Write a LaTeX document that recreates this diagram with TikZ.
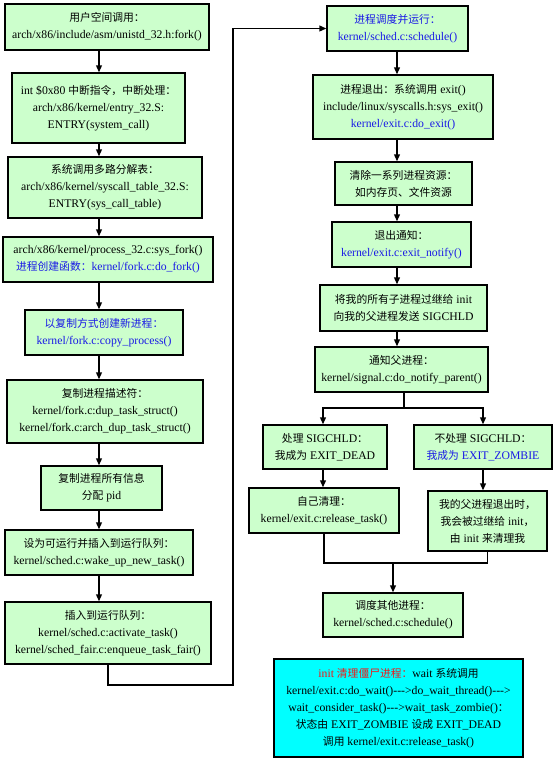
\documentclass[tikz,border=0pt]{standalone}
\usepackage{fontspec}
\setmainfont{Liberation Serif}
\newfontfamily\cjkfont{Noto Sans CJK SC}[Scale=0.92]
\usetikzlibrary{arrows.meta,positioning}
\definecolor{fkGreen}{HTML}{CCFFCC}
\definecolor{fkCyan} {HTML}{00FFFF}
\definecolor{fkBlue} {HTML}{1A1AE6}
\definecolor{fkRed}  {HTML}{F01818}
\newcommand{\zh}[1]{{\cjkfont #1}}
\newcommand{\bl}[1]{\textcolor{fkBlue}{#1}}

\begin{document}
\begin{tikzpicture}[x=0.03cm,y=-0.03cm,
      box/.style={draw,line width=1.1pt,fill=fkGreen,align=center,inner sep=0pt,
                  font=\fontsize{10}{14.5}\selectfont},
      flow/.style={line width=1.2pt,-{Triangle[length=6pt,width=5pt]}},
      wire/.style={line width=1.2pt}]
    \useasboundingbox (0,0) rectangle (559,768);
    % fork: left column
    \node[box,minimum width=6.12cm,minimum height=1.38cm] (L1) at (107,27)
      {\zh{用户空间调用：}\\arch/x86/include/asm/unistd\_32.h:fork()};
    \node[box,minimum width=5.19cm,minimum height=2.1cm] (L2) at (98.5,108)
      {int \$0x80 \zh{中断指令，中断处理：}\\arch/x86/kernel/entry\_32.S:\\ENTRY(system\_call)};
    \node[box,minimum width=5.82cm,minimum height=1.83cm] (L3) at (105,187.5)
      {\zh{系统调用多路分解表：}\\arch/x86/kernel/syscall\_table\_32.S:\\ENTRY(sys\_call\_table)};
    \node[box,minimum width=6.3cm,minimum height=1.35cm] (L4) at (108,259.5)
      {arch/x86/kernel/process\_32.c:sys\_fork()\\\bl{\zh{进程创建函数：}kernel/fork.c:do\_fork()}};
    \node[box,minimum width=4.74cm,minimum height=1.35cm] (L5) at (104,332.5)
      {\bl{\zh{以复制方式创建新进程：}}\\\bl{kernel/fork.c:copy\_process()}};
    \node[box,minimum width=5.88cm,minimum height=1.89cm] (L6) at (105,411.5)
      {\zh{复制进程描述符：}\\kernel/fork.c:dup\_task\_struct()\\kernel/fork.c:arch\_dup\_task\_struct()};
    \node[box,minimum width=3.63cm,minimum height=1.32cm] (L7) at (101.5,488)
      {\zh{复制进程所有信息}\\\zh{分配} pid};
    \node[box,minimum width=5.64cm,minimum height=1.35cm] (L8) at (99,552.5)
      {\zh{设为可运行并插入到运行队列：}\\kernel/sched.c:wake\_up\_new\_task()};
    \node[box,minimum width=6.18cm,minimum height=1.86cm] (L9) at (108,633)
      {\zh{插入到运行队列：}\\kernel/sched.c:activate\_task()\\kernel/sched\_fair.c:enqueue\_task\_fair()};
    % exit: right column
    \node[box,minimum width=4.23cm,minimum height=1.35cm] (R1) at (397.5,28.5)
      {\bl{\zh{进程调度并运行：}}\\\bl{kernel/sched.c:schedule()}};
    \node[box,minimum width=5.4cm,minimum height=1.92cm] (R2) at (403,107)
      {\zh{进程退出：系统调用} exit()\\include/linux/syscalls.h:sys\_exit()\\\bl{kernel/exit.c:do\_exit()}};
    \node[box,minimum width=4.11cm,minimum height=1.29cm] (R3) at (403.5,183.5)
      {\zh{清除一系列进程资源：}\\\zh{如内存页、文件资源}};
    \node[box,minimum width=4.17cm,minimum height=1.35cm] (R4) at (401.5,244.5)
      {\zh{退出通知：}\\\bl{kernel/exit.c:exit\_notify()}};
    \node[box,minimum width=5.01cm,minimum height=1.38cm] (R5) at (403.5,308)
      {\zh{将我的所有子进程过继给} init\\\zh{向我的父进程发送} SIGCHLD};
    \node[box,minimum width=5.19cm,minimum height=1.35cm] (R6) at (401.5,369.5)
      {\zh{通知父进程：}\\kernel/signal.c:do\_notify\_parent()};
    \node[box,minimum width=3.72cm,minimum height=1.32cm] (R7a) at (325,447)
      {\zh{处理} SIGCHLD\zh{：}\\\zh{我成为} EXIT\_DEAD};
    \node[box,minimum width=4.14cm,minimum height=1.32cm] (R7b) at (483,447)
      {\zh{不处理} SIGCHLD\zh{：}\\\bl{\zh{我成为} EXIT\_ZOMBIE}};
    \node[box,minimum width=4.5cm,minimum height=1.35cm] (R8a) at (324,510.5)
      {\zh{自己清理：}\\kernel/exit.c:release\_task()};
    \node[box,minimum width=3.57cm,minimum height=1.8cm] (R8b) at (487.5,521)
      {\zh{我的父进程退出时，}\\\zh{我会被过继给} init\zh{，}\\\zh{由} init \zh{来清理我}};
    \node[box,minimum width=4.2cm,minimum height=1.32cm] (R9) at (393,615)
      {\zh{调度其他进程：}\\kernel/sched.c:schedule()};
    \node[box,fill=fkCyan,minimum width=7.47cm,minimum height=2.94cm] (C) at (398.5,708)
      {\textcolor{fkRed}{init \zh{清理僵尸进程：}}wait \zh{系统调用}\\
       kernel/exit.c:do\_wait()-{}-{}->do\_wait\_thread()-{}-{}->\\
       wait\_consider\_task()-{}-{}->wait\_task\_zombie()\zh{：}\\
       \zh{状态由} EXIT\_ZOMBIE \zh{设成} EXIT\_DEAD\\
       \zh{调用} kernel/exit.c:release\_task()};
    % connectors
    \coordinate (lx) at (99,0);
    \coordinate (rx) at (397,0);
    \coordinate (ax) at (323,0);
    \coordinate (bx) at (483,0);
    \coordinate (jl) at (233,685);
    \coordinate (sp) at (404,408);
    \coordinate (mg) at (393,563);
    \foreach \a/\b in {L1/L2,L2/L3,L3/L4,L4/L5,L5/L6,L6/L7,L7/L8,L8/L9}
      \draw[flow] (\a.south -| lx) -- (\b.north -| lx);
    \draw[flow] (L9.south) |- (jl) |- (R1.west);
    \foreach \a/\b in {R1/R2,R2/R3,R3/R4,R4/R5,R5/R6}
      \draw[flow] (\a.south -| rx) -- (\b.north -| rx);
    \draw[wire] (R6.south -| sp) -- (sp);
    \draw[flow] (sp) -| (R7a.north -| ax);
    \draw[flow] (sp) -| (R7b.north -| bx);
    \draw[flow] (R7a.south -| ax) -- (R8a.north -| ax);
    \draw[flow] (R7b.south -| bx) -- (R8b.north -| bx);
    \draw[wire] (R8a.south) |- (mg) -| (R8b.south);
    \draw[flow] (mg) -- (R9.north);
  \end{tikzpicture}
\end{document}
